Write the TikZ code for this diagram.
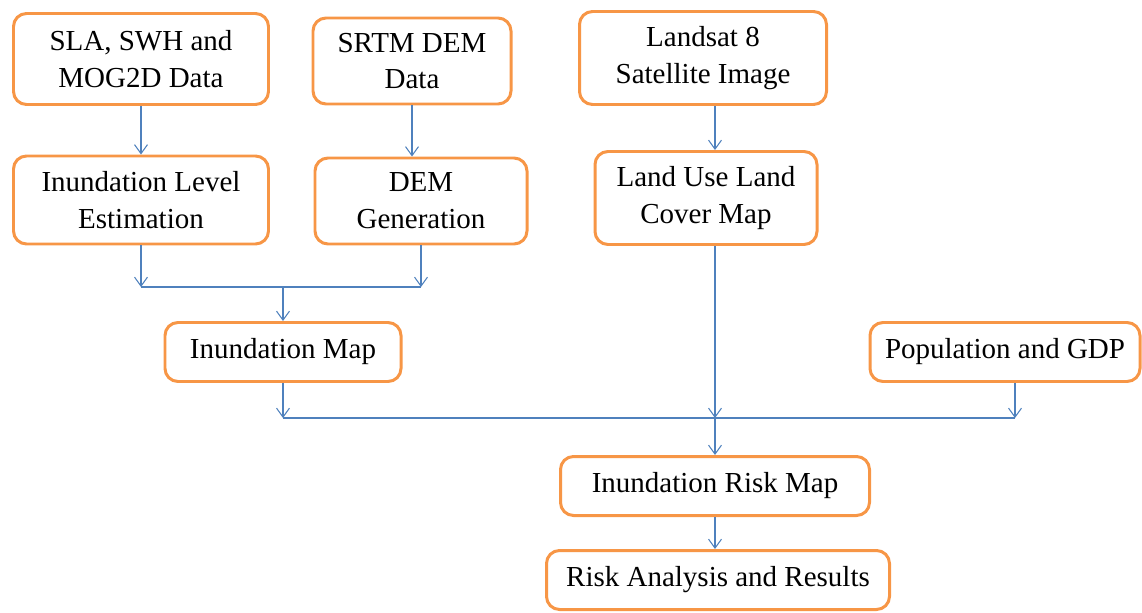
\documentclass[tikz,border=0pt]{standalone}
\usepackage{fontspec}
\setmainfont{Liberation Serif}
\newfontfamily\boxfont{Liberation Serif}
\usetikzlibrary{arrows.meta,positioning}
\definecolor{boxorange}{RGB}{247,150,70}
\definecolor{lineblue}{RGB}{79,129,189}
\tikzstyle{block} = [rectangle, draw=boxorange, line width=1.7pt, fill=white,
    align=center, rounded corners=0.26cm, inner sep=2pt,
    font=\boxfont\fontsize{16.5}{21}\selectfont]
\tikzstyle{line} = [draw=lineblue, line width=0.6pt,
    -{Straight Barb[length=1.8mm,width=2.6mm]}]
\tikzstyle{bus} = [draw=lineblue, line width=0.6pt]

\begin{document}
\begin{tikzpicture}
    \useasboundingbox (0,0) rectangle (22.84,-12.24);
    % Place nodes
    \node [block, minimum width=5.1cm, minimum height=1.82cm] at (2.82,-1.18) (sla) {SLA, SWH and\\MOG2D Data};
    \node [block, minimum width=3.96cm, minimum height=1.72cm] at (8.24,-1.22) (srtm) {SRTM DEM\\Data};
    \node [block, minimum width=4.94cm, minimum height=1.86cm] at (14.06,-1.16) (landsat) {Landsat 8\\Satellite Image};
    \node [block, minimum width=5.1cm, minimum height=1.76cm] at (2.82,-4.0) (inlev) {Inundation Level\\Estimation};
    \node [block, minimum width=4.24cm, minimum height=1.72cm] at (8.42,-4.02) (demgen) {DEM\\Generation};
    \node [block, minimum width=4.44cm, minimum height=1.86cm] at (14.12,-3.96) (lulc) {Land Use Land\\Cover Map};
    \node [block, minimum width=4.72cm, minimum height=1.18cm] at (5.66,-7.04) (inmap) {Inundation Map};
    \node [block, minimum width=5.4cm, minimum height=1.18cm] at (20.1,-7.04) (popgdp) {Population and GDP};
    \node [block, minimum width=6.18cm, minimum height=1.18cm] at (14.30,-9.72) (risk) {Inundation Risk Map};
    \node [block, minimum width=6.86cm, minimum height=1.18cm] at (14.36,-11.6) (results) {Risk Analysis and Results};
    \coordinate (bus1) at (0,-5.74);
    \coordinate (bus2) at (0,-8.36);
    % Draw edges
    \path [line] (sla.south) -- (sla.south |- inlev.north);
    \path [line] (srtm.south) -- (srtm.south |- demgen.north);
    \path [line] (landsat.south -| risk.north) -- (lulc.north -| risk.north);
    \path [line] (inlev.south) -- (inlev.south |- bus1);
    \path [line] (demgen.south) -- (demgen.south |- bus1);
    \path [bus] (inlev.south |- bus1) -- (demgen.south |- bus1);
    \path [line] (inmap.north |- bus1) -- (inmap.north);
    \path [line] (inmap.south) -- (inmap.south |- bus2);
    \path [line] (lulc.south -| risk.north) -- (risk.north |- bus2);
    \path [line] ([xshift=0.2cm]popgdp.south) -- ([xshift=0.2cm]popgdp.south |- bus2);
    \path [bus] (inmap.south |- bus2) -- ([xshift=0.2cm]popgdp.south |- bus2);
    \path [line] (risk.north |- bus2) -- (risk.north);
    \path [line] (risk.south) -- (risk.south |- results.north);
\end{tikzpicture}
\end{document}
